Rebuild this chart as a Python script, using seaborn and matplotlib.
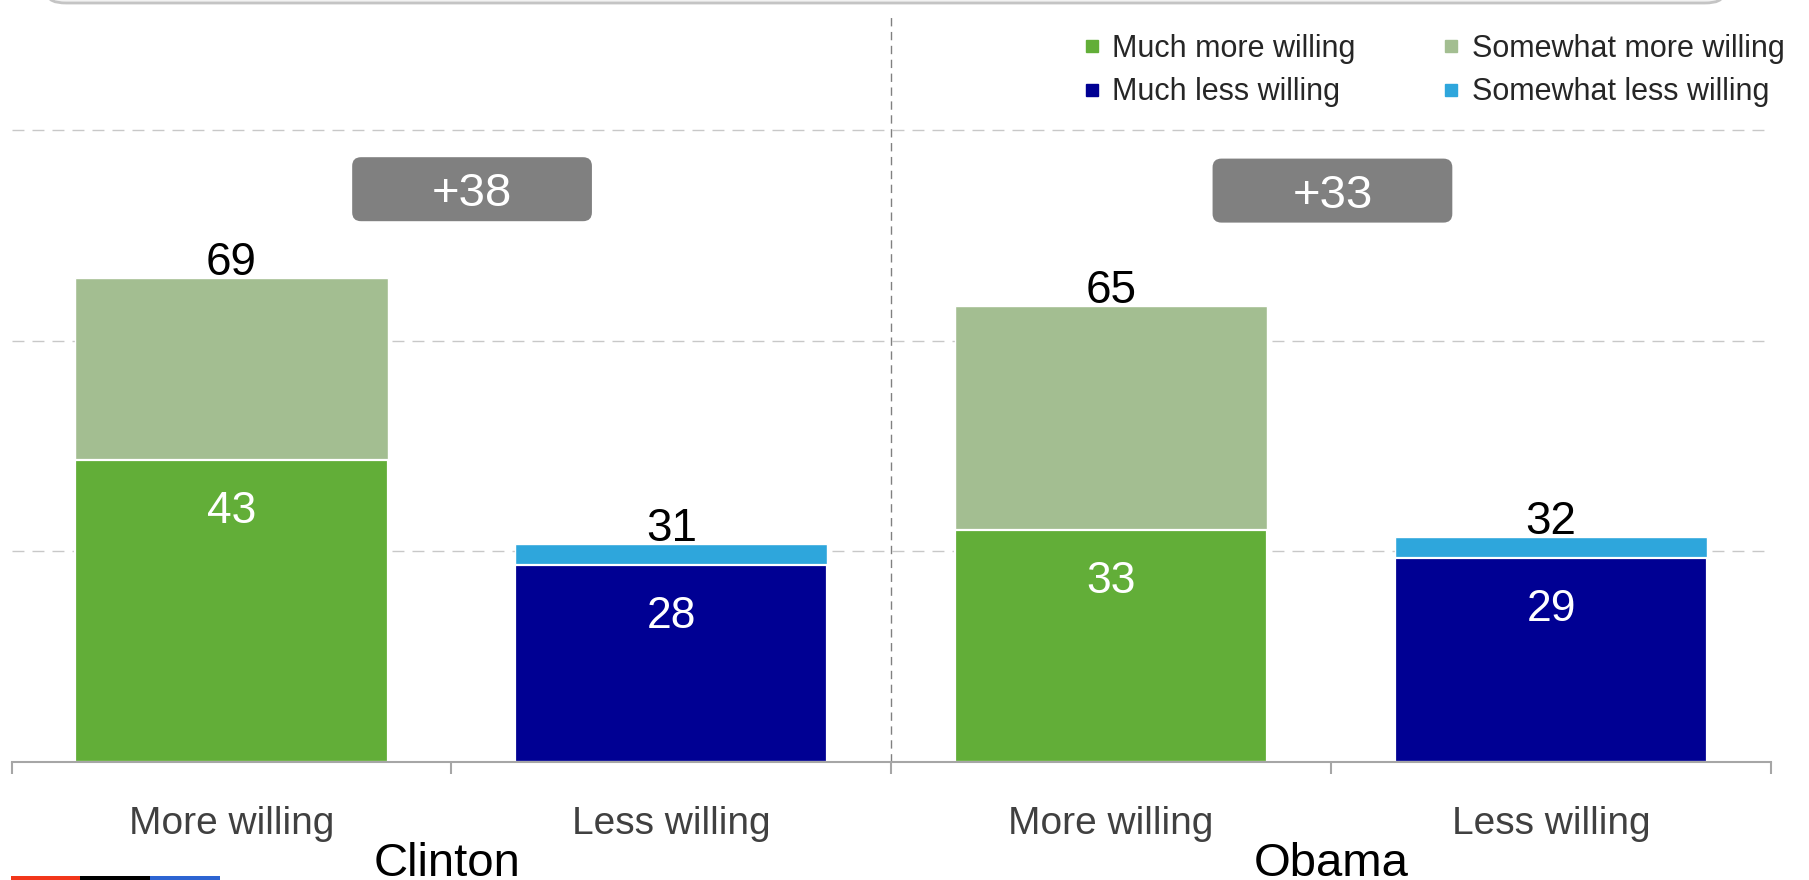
import pandas as pd
import matplotlib.pyplot as plt
import seaborn as sns
from matplotlib.lines import Line2D
from matplotlib.patches import FancyBboxPatch, Rectangle


# data
candidates = ["Clinton", "Clinton", "Obama", "Obama"]
answers = ["More willing", "Less willing", "More willing", "Less willing"]
much = [43, 28, 33, 29]
totals = [69, 31, 65, 32]
group_names = ["Clinton", "Obama"]
legend_labels = ["Much more willing", "Much less willing",
                 "Somewhat more willing", "Somewhat less willing"]

# colours
c_much_more = "#62AE38"
c_some_more = "#A3BE91"
c_much_less = "#000093"
c_some_less = "#2EA6DC"

df = pd.DataFrame({"candidate": candidates, "answer": answers,
                   "much": much, "total": totals})
df["key"] = df["candidate"] + " " + df["answer"]
order = list(df["key"])
top_pal = {k: (c_some_more if a == "More willing" else c_some_less)
           for k, a in zip(df["key"], df["answer"])}
low_pal = {k: (c_much_more if a == "More willing" else c_much_less)
           for k, a in zip(df["key"], df["answer"])}

sns.set_style("white")
plt.rcParams["font.family"] = ["Liberation Sans", "DejaVu Sans"]

fig = plt.figure(figsize=(18.09, 8.8), dpi=100)
ax = fig.add_axes([11.5 / 1809, 118 / 880, 1759.5 / 1809, 749 / 880])

# grid behind bars
ax.set_axisbelow(True)
ax.set_yticks([30, 60, 90])
ax.yaxis.grid(True, color="#C8C8C8", linewidth=1, linestyle=(0, (8.6, 5.8)))
ax.xaxis.grid(False)

# stacked bars: total first, then the "much" part on top of it
sns.barplot(data=df, x="key", y="total", hue="key", order=order,
            hue_order=order, palette=top_pal, width=0.71, legend=False,
            saturation=1, edgecolor="white", linewidth=1, ax=ax)
sns.barplot(data=df, x="key", y="much", hue="key", order=order,
            hue_order=order, palette=low_pal, width=0.71, legend=False,
            saturation=1, edgecolor="white", linewidth=1.6, ax=ax)

ax.set_xlim(-0.5, 3.5)
ax.set_ylim(0, 106.7)

# value labels
for i, row in df.iterrows():
    ax.annotate(str(row["total"]), (i, row["total"]), xytext=(0, 3),
                textcoords="offset pixels", ha="center", va="baseline",
                fontsize=33, color="black")
    ax.annotate(str(row["much"]), (i, row["much"]), xytext=(0, -51),
                textcoords="offset pixels", ha="center", va="center",
                fontsize=32, color="white")

# net difference boxes
px_x = 438.5
px_y = 7.02
box_w = 239 / px_x
box_h = 64 / px_y
for g, xc, yc in zip(group_names, [0.547, 2.503], [81.6, 81.4]):
    sub = df[df["candidate"] == g]
    net = int(sub["total"].iloc[0] - sub["total"].iloc[1])
    box = FancyBboxPatch((xc - box_w / 2, yc - box_h / 2), box_w, box_h,
                         boxstyle="round,pad=0,rounding_size=0.02",
                         mutation_aspect=px_x / px_y,
                         facecolor="#808080", edgecolor="none", zorder=4)
    ax.add_patch(box)
    ax.text(xc, yc, f"+{net}", ha="center", va="center_baseline",
            fontsize=34, color="white", zorder=5)

# divider between candidates
ax.axvline(1.5, ymax=0.995, color="#808080", linewidth=1,
           linestyle=(0, (6, 4)), zorder=1)

# axes styling
for s in ["left", "right", "top"]:
    ax.spines[s].set_visible(False)
ax.spines["bottom"].set_color("#A6A6A6")
ax.spines["bottom"].set_linewidth(1.5)
ax.set_yticklabels([])
ax.tick_params(axis="y", length=0)
ax.set_xticks(range(4))
ax.set_xticklabels(answers)
ax.tick_params(axis="x", which="major", length=0, pad=31.5, labelsize=28,
               labelcolor="#404040")
ax.set_xticks([-0.5, 0.5, 1.5, 2.5, 3.5], minor=True)
ax.tick_params(axis="x", which="minor", bottom=True, length=8.6, width=1.5,
               color="#A6A6A6", direction="out")
ax.set_xlabel("")
ax.set_ylabel("")

for g, xc in zip(group_names, [0.49, 2.5]):
    ax.text(xc, -16.3, g, ha="center", va="baseline", fontsize=34,
            color="black", clip_on=False)

# legend
handles = [Line2D([], [], marker="s", linestyle="none", markersize=8.6,
                  color=c) for c in [c_much_more, c_much_less,
                                      c_some_more, c_some_less]]
fig.legend(handles, legend_labels, ncol=2, loc="center left",
           bbox_to_anchor=(1083 / 1809, 1 - 70.5 / 880), frameon=False,
           fontsize=22, handlelength=0.6, handletextpad=0.36,
           columnspacing=2.83, labelspacing=0.45, borderpad=0,
           borderaxespad=0)

# decorations: cropped title box at top, colour strip bottom left
fig.patches.append(FancyBboxPatch((48 / 1809, 1 - 3 / 880), 1675 / 1809, 0.05,
                                  boxstyle="round,pad=0,rounding_size=0.01",
                                  transform=fig.transFigure,
                                  facecolor="#F2F2F2", edgecolor="#C4C4C4",
                                  linewidth=2, figure=fig))
for x0, x1, c in [(11, 80, "#F2361A"), (80, 150, "#000000"),
                  (150, 220, "#2D64D2")]:
    fig.patches.append(Rectangle((x0 / 1809, 0), (x1 - x0) / 1809, 4 / 880,
                                 transform=fig.transFigure, facecolor=c,
                                 edgecolor="none", figure=fig))

fig.savefig("out.png", dpi=100)
